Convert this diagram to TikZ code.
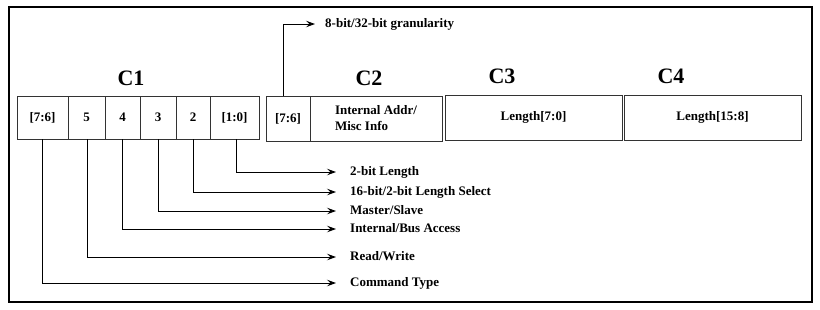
\documentclass[tikz,border=0pt]{standalone}
\usepackage{fontspec}
\setmainfont{Liberation Serif}
\usetikzlibrary{positioning,arrows.meta}

\tikzset{
    field/.style={draw=black!80, line width=0.9pt, minimum height=43pt, inner sep=0pt, outer sep=0pt, font=\fontsize{13}{16}\selectfont\bfseries},
    title/.style={font=\fontsize{22}{24}\selectfont\bfseries},
    bitlabel/.style={anchor=west, inner sep=0pt, text height=9pt, text depth=3pt, font=\fontsize{13}{15}\selectfont\bfseries},
    pointer/.style={line width=0.9pt, -{Stealth[length=9pt,width=6.5pt,inset=3.5pt]}, shorten >=14pt},
}

\begin{document}
\begin{tikzpicture}[x=1pt,y=-1pt]
    \def\pagewidth{820}
    \def\pageheight{309}

    % Frame
    \useasboundingbox (0,0) rectangle (\pagewidth,\pageheight);
    \draw[line width=1.6pt] (9,7) rectangle (812,302);

    % C1 fields
    \node[field, minimum width=51pt, anchor=north west] (c1a) at (17,96) {[7:6]};
    \node[field, minimum width=37pt, right=0pt of c1a] (c1b) {5};
    \node[field, minimum width=35pt, right=0pt of c1b] (c1c) {4};
    \node[field, minimum width=36pt, right=0pt of c1c] (c1d) {3};
    \node[field, minimum width=34pt, right=0pt of c1d] (c1e) {2};
    \node[field, minimum width=49pt, right=0pt of c1e] (c1f) {[1:0]};

    % C2, C3, C4 fields
    \node[field, minimum width=44pt, minimum height=45pt, anchor=north west] (c2a) at (266,96) {[7:6]};
    \node[field, minimum width=132pt, minimum height=45pt, align=left, right=0pt of c2a] (c2b) {Internal Addr/\\Misc Info};
    \node[field, minimum width=177pt, minimum height=45pt, anchor=north west] (c3) at (445,95) {Length[7:0]};
    \node[field, minimum width=177pt, minimum height=45pt, anchor=north west] (c4) at (624,95) {Length[15:8]};

    % Titles
    \node[title] (t1) at (131,78) {C1};
    \node[title] (t2) at (369,78) {C2};
    \node[title] (t3) at (502,76) {C3};
    \node[title] (t4) at (671,76) {C4};

    % Bit descriptions
    \node[bitlabel] (lgran) at (325,24) {8-bit/32-bit granularity};
    \node[bitlabel] (llen) at (350,172) {2-bit Length};
    \node[bitlabel] (lsel) at (350,192) {16-bit/2-bit Length Select};
    \node[bitlabel] (lmst) at (350,211) {Master/Slave};
    \node[bitlabel] (lbus) at (350,229) {Internal/Bus Access};
    \node[bitlabel] (lrw) at (350,257) {Read/Write};
    \node[bitlabel] (lcmd) at (350,283) {Command Type};

    \draw[pointer, shorten >=10pt] ([xshift=-5pt]c2a.north) |- (lgran.west);
    \draw[pointer] ([xshift=2pt]c1f.south) |- (llen.west);
    \draw[pointer] (c1e.south) |- (lsel.west);
    \draw[pointer] (c1d.south) |- (lmst.west);
    \draw[pointer] (c1c.south) |- (lbus.west);
    \draw[pointer] ([xshift=1pt]c1b.south) |- (lrw.west);
    \draw[pointer] (c1a.south) |- (lcmd.west);
\end{tikzpicture}
\end{document}
